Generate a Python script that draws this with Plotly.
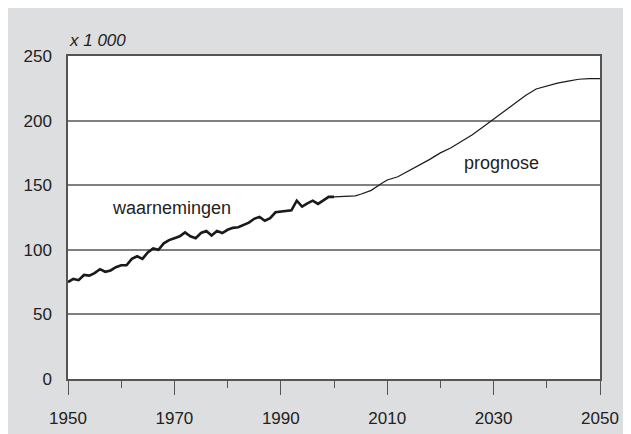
import plotly.graph_objects as go

# ── Datos (x 1 000) ─────────────────────────────────────────────────────────
jaren_waarneming = list(range(1950, 2001))
waarnemingen = [
    75, 77.5, 76.5, 80.5, 80, 82, 85, 83, 84, 86.5,
    88, 88, 93, 95, 93, 98, 101, 100, 105, 107.5,
    109, 110.5, 113.5, 110.5, 109, 113, 114.5, 111, 114.5, 113,
    115.5, 117, 117.5, 119, 121, 124, 125.5, 122.5, 124.5, 129,
    129.5, 130, 130.5, 138, 133.5, 136, 138, 135.5, 138, 141,
    141,
]

jaren_prognose = [2000, 2002, 2004, 2005, 2007, 2009, 2010, 2012, 2015, 2018,
                  2020, 2022, 2024, 2026, 2028, 2030, 2032, 2034, 2036, 2038,
                  2040, 2042, 2044, 2046, 2048, 2050]
prognose = [141, 141.5, 141.7, 143, 146, 151.5, 154, 156.5, 163, 170,
            175, 179, 184, 189, 195, 201, 207, 213, 219.5, 224.5,
            227, 229, 230.5, 232, 232.5, 232.5]

x_ticks = [1950, 1970, 1990, 2010, 2030, 2050]
y_ticks = [0, 50, 100, 150, 200, 250]

GRIS_FONDO = "#dddedf"
GRIS_LINEA = "#808080"
TEXTO = "#222222"
FUENTE = "Liberation Sans, Arial, sans-serif"

# la página añade 8 px de margen; la figura empieza en (8, 8)
W, H = 623, 426
ML, MR, MT, MB = 60, 31, 48, 55
PW, PH = W - ML - MR, H - MT - MB

fig = go.Figure()
fig.add_trace(go.Scatter(
    x=jaren_waarneming, y=waarnemingen, mode="lines",
    line=dict(color="#1a1a1a", width=2.6), hoverinfo="x+y", showlegend=False,
))
fig.add_trace(go.Scatter(
    x=jaren_prognose, y=prognose, mode="lines",
    line=dict(color="#1a1a1a", width=1.2), hoverinfo="x+y", showlegend=False,
))

fig.add_annotation(x=(-ML + 59) / PW, y=1 + (MT - 32) / PH, xref="paper", yref="paper",
                   text="<i>x 1 000</i>", showarrow=False, xanchor="left", yanchor="middle",
                   font=dict(size=17, color=TEXTO, family=FUENTE))
fig.add_annotation(x=1969.4, y=132.4, text="waarnemingen", showarrow=False,
                   font=dict(size=18, color=TEXTO, family=FUENTE))
fig.add_annotation(x=2031.4, y=167, text="prognose", showarrow=False,
                   font=dict(size=18, color=TEXTO, family=FUENTE))

fig.update_layout(
    width=W, height=H,
    margin=dict(l=ML, r=MR, t=MT, b=MB, pad=0, autoexpand=False),
    paper_bgcolor=GRIS_FONDO,
    plot_bgcolor="white",
    font=dict(family=FUENTE, size=17, color=TEXTO),
    showlegend=False,
    xaxis=dict(
        range=[1950, 2050], tickvals=x_ticks, ticks="outside", ticklen=14,
        tickcolor="#555555", tickwidth=1, showgrid=False, zeroline=False,
        showline=True, linecolor="#555555", linewidth=1.5, mirror=True,
        ticklabelstandoff=9, automargin=False,
        minor=dict(tickvals=[1960, 1980, 2000, 2020, 2040], ticks="outside",
                   ticklen=7, tickcolor="#555555", tickwidth=1, showgrid=False),
        tickfont=dict(size=17, color=TEXTO),
    ),
    yaxis=dict(
        range=[0, 250], tickvals=y_ticks, ticks="", ticklabelstandoff=11,
        showgrid=True, gridcolor=GRIS_LINEA, gridwidth=1.5, zeroline=False,
        showline=True, linecolor="#555555", linewidth=1.5, mirror=True,
        automargin=False, tickfont=dict(size=17, color=TEXTO),
    ),
)

fig.write_html("out.html")
